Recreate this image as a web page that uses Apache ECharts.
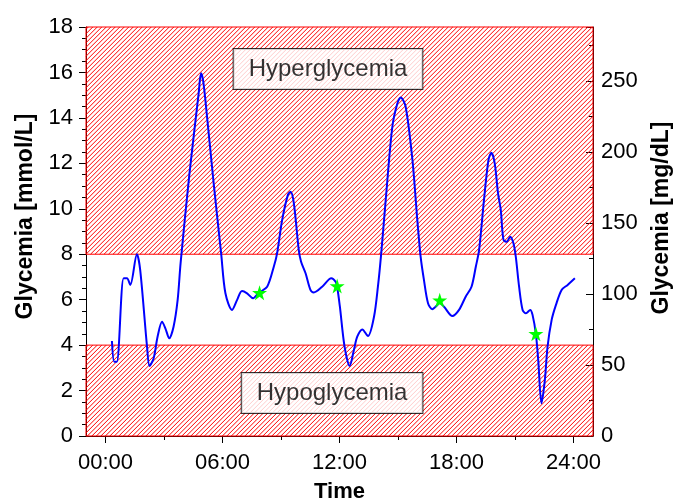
<!DOCTYPE html>
<html>
<head>
<meta charset="utf-8">
<script src="https://cdn.jsdelivr.net/npm/echarts@6/dist/echarts.min.js"></script>
<style>
html,body{margin:0;padding:0;background:#fff;}
#chart{width:676px;height:502px;}
</style>
</head>
<body>
<div id="chart"></div>
<script>
// ---- data ----
const times = [0.33,0.45,0.58,0.93,1.1,1.27,1.61,1.78,2.13,2.26,2.47,2.67,2.9,3.07,3.27,3.49,3.7,3.85,4.3,4.78,4.9,5.0,5.12,5.55,5.93,6.15,6.49,6.75,7.0,7.26,7.57,7.86,8.29,8.63,8.8,9.06,9.35,9.49,9.66,9.91,10.03,10.26,10.51,10.68,11.11,11.58,11.8,11.88,12.02,12.26,12.52,12.74,12.91,13.17,13.46,13.77,13.97,14.14,14.37,14.71,14.97,15.14,15.39,15.74,15.99,16.16,16.33,16.54,16.76,16.93,17.14,17.36,17.79,18.13,18.47,18.77,18.99,19.16,19.41,19.64,19.79,19.96,20.13,20.27,20.41,20.58,20.75,20.92,21.04,21.21,21.39,21.56,21.78,21.9,22.07,22.19,22.36,22.53,22.67,22.88,23.1,23.39,23.7,24.07];
const glucose = [4.18,3.27,3.27,6.94,6.94,6.65,8.0,7.3,3.93,3.08,3.42,4.37,5.03,4.74,4.3,4.81,5.99,7.6,11.5,15.1,15.96,15.67,14.8,11.1,8.04,6.28,5.55,5.99,6.38,6.28,6.06,6.3,6.57,7.45,8.04,9.51,10.6,10.75,10.24,8.19,7.67,7.16,6.43,6.32,6.57,6.94,6.79,6.57,5.69,3.93,3.08,3.79,4.37,4.69,4.4,5.25,6.57,8.04,10.39,13.61,14.64,14.9,14.5,12.15,9.51,7.89,6.87,5.84,5.58,5.69,5.85,5.69,5.28,5.55,6.13,6.57,7.45,8.19,10.39,12.15,12.47,12.0,10.68,9.95,8.63,8.55,8.77,8.48,7.89,6.57,5.55,5.4,5.55,5.33,4.49,3.35,1.44,2.46,3.93,5.11,5.77,6.43,6.65,6.94];
const starTimes = [7.9, 11.88, 17.14, 22.07];
const starValues = [6.3, 6.6, 5.97, 4.5];
const xTickValues = [0, 6, 12, 18, 24];
const xMinorTickValues = [3, 9, 15, 21];
const hyperRange = [8, 18];
const hypoRange = [0, 4];
const zoneLabels = ['Hyperglycemia', 'Hypoglycemia'];

const FONT = 'Liberation Sans, Arial, Helvetica, sans-serif';
const chart = echarts.init(document.getElementById('chart'), null, { renderer: 'canvas' });

const lineData = times.map((t, i) => [t, glucose[i]]);
const starData = starTimes.map((t, i) => [t, starValues[i]]);
const starPath = 'path://M50,0 L61.2,34.5 L97.6,34.5 L68.2,55.9 L79.4,90.5 L50,69.1 L20.6,90.5 L31.8,55.9 L2.4,34.5 L38.8,34.5 Z';

// hatched zone: diagonal lines clipped to the zone rectangle (style only)
function renderZone(params, api) {
  const cs = params.coordSys;
  const yTop = api.coord([0, api.value(1)])[1];
  const yBot = api.coord([0, api.value(0)])[1];
  const x0 = cs.x, x1 = cs.x + cs.width;
  const y0 = Math.min(yTop, yBot), y1 = Math.max(yTop, yBot);
  const step = 4.5;
  let d = '';
  for (let c = x0 + y0 + step / 2; c < x1 + y1; c += step) {
    const sx = Math.max(x0, c - y1), ex = Math.min(x1, c - y0);
    if (ex <= sx) continue;
    d += 'M' + sx.toFixed(2) + ',' + (c - sx).toFixed(2) + 'L' + ex.toFixed(2) + ',' + (c - ex).toFixed(2);
  }
  return {
    type: 'group',
    children: [
      { type: 'path', shape: { pathData: d }, style: { fill: null, stroke: '#ff0000', lineWidth: 1 } },
      { type: 'rect', shape: { x: x0, y: y0, width: x1 - x0, height: y1 - y0 },
        style: { fill: null, stroke: '#ff0000', lineWidth: 1 } }
    ]
  };
}

const labelStyle = {
  show: true, position: 'inside', color: '#000', fontFamily: FONT, fontSize: 24,
  lineHeight: 24, backgroundColor: '#fff', borderColor: '#000', borderWidth: 1,
  padding: [8, 15]
};

chart.setOption({
  animation: false,
  backgroundColor: '#fff',
  grid: { left: 86, right: 83, top: 27, bottom: 66, containLabel: false, outerBoundsMode: 'none' },
  xAxis: [
    {
      type: 'value', min: -1, max: 25, position: 'bottom',
      name: 'Time', nameLocation: 'middle', nameGap: 45,
      nameTextStyle: { fontFamily: FONT, fontSize: 22, fontWeight: 'bold', color: '#000' },
      axisLine: { show: true, onZero: false, lineStyle: { color: '#000', width: 1 } },
      axisTick: { show: true, inside: false, length: 7, customValues: xTickValues, lineStyle: { color: '#000' } },
      axisLabel: {
        show: true, customValues: xTickValues, margin: 16, fontFamily: FONT, fontSize: 22, color: '#000',
        formatter: v => (v < 10 ? '0' + v : '' + v) + ':00'
      },
      splitLine: { show: false }
    },
    {
      type: 'value', min: -1, max: 25, position: 'bottom',
      axisLine: { show: false, onZero: false },
      axisTick: { show: true, inside: false, length: 4, customValues: xMinorTickValues, lineStyle: { color: '#000' } },
      axisLabel: { show: false },
      splitLine: { show: false }
    }
  ],
  yAxis: [
    {
      type: 'value', min: 0, max: 18, interval: 2, position: 'left',
      name: 'Glycemia [mmol/L]', nameLocation: 'middle', nameGap: 49, nameRotate: 90,
      nameTextStyle: { fontFamily: FONT, fontSize: 23, fontWeight: 'bold', color: '#000', padding: [0, 0, 0, 30] },
      axisLine: { show: true, onZero: false, lineStyle: { color: '#000', width: 1 } },
      axisTick: { show: true, inside: false, length: 7, lineStyle: { color: '#000' } },
      minorTick: { show: true, splitNumber: 4, length: 4, lineStyle: { color: '#000' } },
      axisLabel: { margin: 13, fontFamily: FONT, fontSize: 22, color: '#000' },
      splitLine: { show: false }
    },
    {
      type: 'value', min: 0, max: 288, interval: 50, position: 'right',
      name: 'Glycemia [mg/dL]', nameLocation: 'middle', nameGap: 57, nameRotate: 90,
      nameTextStyle: { fontFamily: FONT, fontSize: 23, fontWeight: 'bold', color: '#000', padding: [0, 0, 0, 27] },
      axisLine: { show: true, onZero: false, lineStyle: { color: '#000', width: 1 } },
      axisTick: { show: true, inside: true, length: 7, lineStyle: { color: '#000' } },
      minorTick: { show: true, splitNumber: 2, length: 4, lineStyle: { color: '#000' } },
      axisLabel: { margin: 8, fontFamily: FONT, fontSize: 22, color: '#000', showMaxLabel: false },
      splitLine: { show: false }
    }
  ],
  series: [
    {
      type: 'custom', name: 'zones', xAxisIndex: 0, yAxisIndex: 0,
      renderItem: renderZone, silent: true, z: 1,
      encode: { y: [0, 1] },
      data: [[hyperRange[0], hyperRange[1]], [hypoRange[0], hypoRange[1]]]
    },
    {
      type: 'line', name: 'glucose', xAxisIndex: 0, yAxisIndex: 0,
      data: lineData, smooth: 0.3, showSymbol: false,
      lineStyle: { color: '#0000ff', width: 2 },
      z: 3
    },
    {
      type: 'scatter', name: 'stars', xAxisIndex: 0, yAxisIndex: 0,
      data: starData, symbol: starPath, symbolSize: 15,
      itemStyle: { color: '#00ff00', opacity: 1 }, z: 4
    },
    {
      type: 'scatter', name: 'labels', xAxisIndex: 0, yAxisIndex: 0,
      symbolSize: 0, z: 5, silent: true,
      data: [
        { value: [11.41, 16.15], label: Object.assign({}, labelStyle, { formatter: zoneLabels[0] }) },
        { value: [11.62, 1.89], label: Object.assign({}, labelStyle, { formatter: zoneLabels[1] }) }
      ]
    }
  ]
});
</script>
</body>
</html>
